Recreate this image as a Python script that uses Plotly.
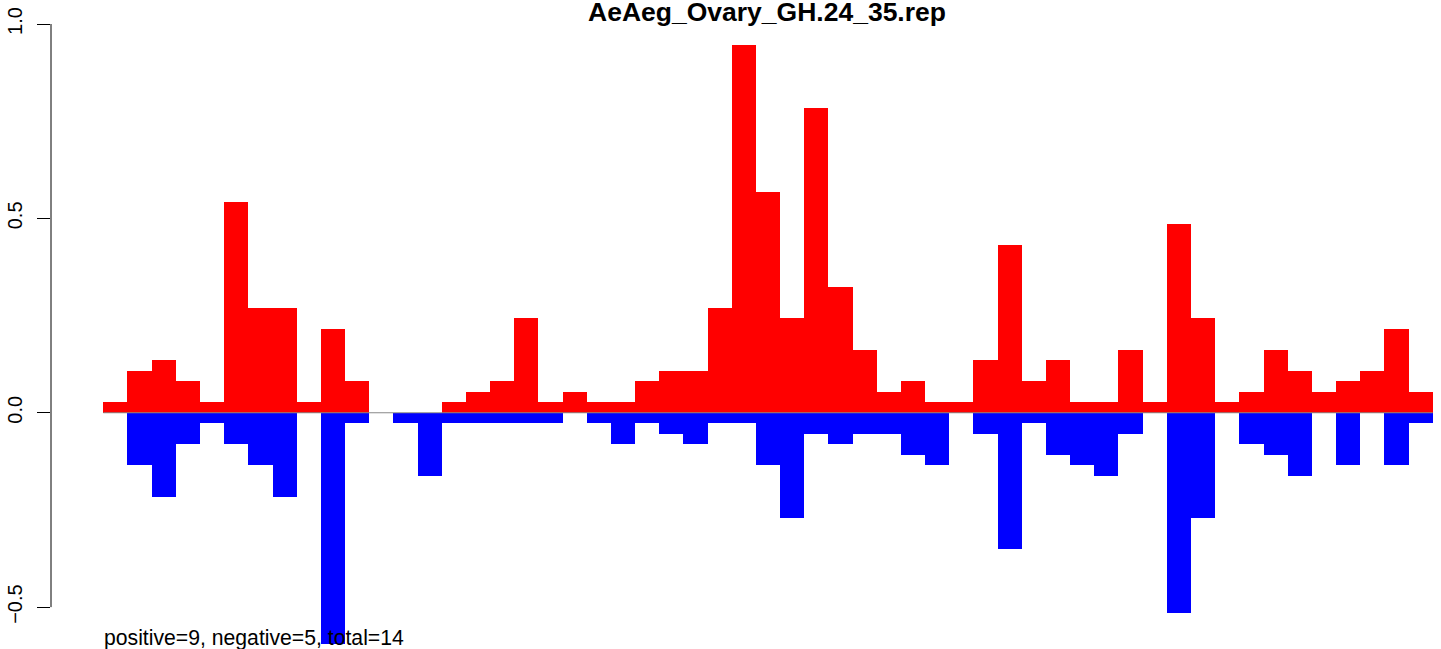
import plotly.graph_objects as go

# ---- data ----
bar_index = list(range(55))
positive = [0.027, 0.108, 0.135, 0.081, 0.027, 0.541, 0.270, 0.270, 0.027, 0.216,
            0.081, 0.0, 0.0, 0.0, 0.027, 0.054, 0.081, 0.243, 0.027, 0.054,
            0.027, 0.027, 0.081, 0.108, 0.108, 0.270, 0.946, 0.568, 0.243, 0.784,
            0.324, 0.162, 0.054, 0.081, 0.027, 0.027, 0.135, 0.432, 0.081, 0.135,
            0.027, 0.027, 0.162, 0.027, 0.486, 0.243, 0.027, 0.054, 0.162, 0.108,
            0.054, 0.081, 0.108, 0.216, 0.054]
negative = [0.0, -0.135, -0.216, -0.081, -0.027, -0.081, -0.135, -0.216, 0.0, -0.595,
            -0.027, 0.0, -0.027, -0.162, -0.027, -0.027, -0.027, -0.027, -0.027, 0.0,
            -0.027, -0.081, -0.027, -0.054, -0.081, -0.027, -0.027, -0.135, -0.270, -0.054,
            -0.081, -0.054, -0.054, -0.108, -0.135, 0.0, -0.054, -0.351, -0.027, -0.108,
            -0.135, -0.162, -0.054, 0.0, -0.514, -0.270, 0.0, -0.081, -0.108, -0.162,
            0.0, -0.135, 0.0, -0.135, -0.027]
y_ticks = [-0.5, 0.0, 0.5, 1.0]
title_text = "AeAeg_Ovary_GH.24_35.rep"
note_text = "positive=9, negative=5, total=14"

FONT = "Liberation Sans, Arial, Helvetica, sans-serif"
W, H = 1441, 649

fig = go.Figure()
fig.add_trace(go.Bar(x=bar_index, y=positive, width=1.0,
                     marker=dict(color="#FF0000", line=dict(width=0)),
                     hoverinfo="skip"))
fig.add_trace(go.Bar(x=bar_index, y=negative, width=1.0,
                     marker=dict(color="#0000FF", line=dict(width=0)),
                     hoverinfo="skip"))

n = len(bar_index)
fig.update_layout(
    width=W, height=H,
    margin=dict(l=51, r=0, t=24, b=3, pad=0),
    paper_bgcolor="white", plot_bgcolor="white",
    barmode="overlay", bargap=0, showlegend=False,
    font=dict(family=FONT, color="black"),
    title=dict(text=title_text, font=dict(family=FONT, size=26.5, color="black", weight="bold"),
               xref="container", x=767 / W, xanchor="center",
               yref="container", y=1 - 11.5 / H, yanchor="middle"),
    xaxis=dict(visible=False, range=[-2.664, n - 0.157], fixedrange=True),
    yaxis=dict(range=[-0.6, 1.0], tickvals=y_ticks, tickformat=".1f",
               ticks="outside", ticklen=13, tickwidth=1, tickcolor="black",
               tickangle=-90, tickfont=dict(family=FONT, size=20, color="black"),
               ticklabelstandoff=7,
               showgrid=False, zeroline=False, showline=False, fixedrange=True),
    shapes=[
        dict(type="line", xref="paper", x0=0, x1=0, yref="y", y0=y_ticks[0], y1=y_ticks[-1],
             line=dict(color="black", width=1)),
        dict(type="line", xref="x", x0=-0.5, x1=n - 0.5, yref="y", y0=0, y1=0,
             line=dict(color="#888888", width=1), layer="above"),
    ],
    annotations=[
        dict(text=note_text, xref="x", x=-0.5, xanchor="left",
             yref="y", y=-0.58, yanchor="middle", showarrow=False,
             font=dict(family=FONT, size=21.2, color="black"), borderpad=0),
    ],
)

fig.write_html("out.html", config={"displayModeBar": False},
               post_script="document.body.style.margin='0';document.body.style.overflow='hidden';")
